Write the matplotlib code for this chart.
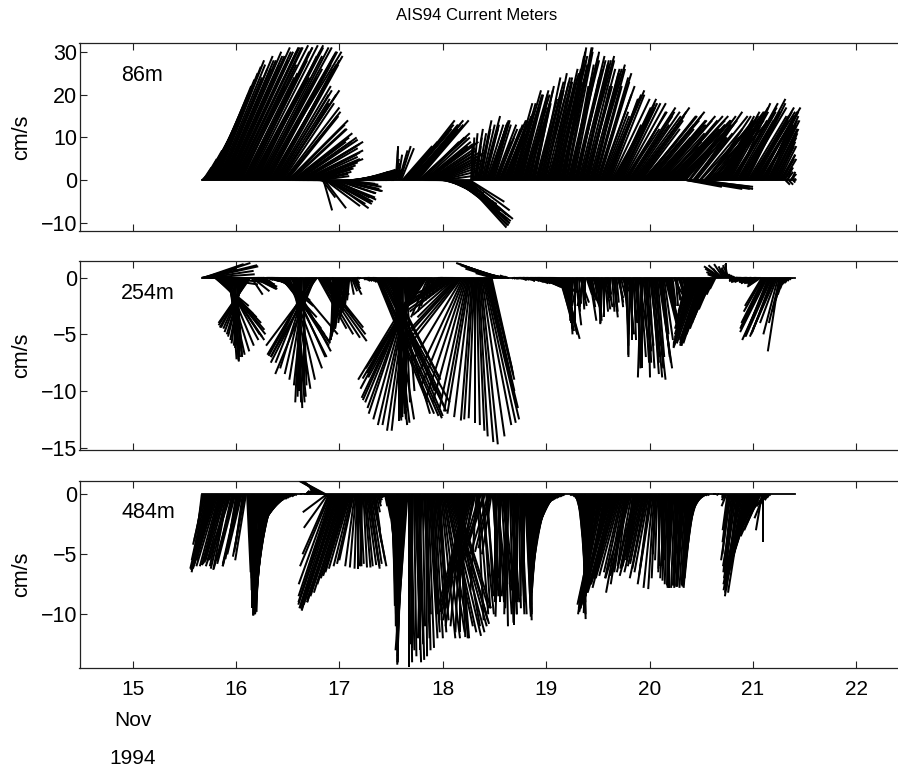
import numpy as np
import matplotlib
matplotlib.use('Agg')
import matplotlib.pyplot as plt
import matplotlib.transforms as mtransforms

# ---------------- data (one stick every 15 min from 15.67 Nov 1994) ----------------
t_start = 15.67          # day of November
t_step = 1.0 / 96.0      # 15 minutes

u86 = [1, 2, 3, 4, 5, 6, 7, 7.5, 8, 8.5, 9, 9.5, 10, 10.5, 11, 11, 10, 11, 12, 12, 11, 12, 13, 13, 12, 13, 14, 14, 13, 14, 15, 15,
       14, 15, 15, 16, 13, 10, 12, 16, 15, 12, 14, 15, 16, 17, 15, 11, 13, 16, 15, 14, 15, 17, 16, 13, 14, 17, 18, 16, 15, 14, 16, 17, 16, 15, 14, 15,
       13, 13, 12, 12, 14, 13, 11, 12, 13, 13, 12, 12, 14, 13, 13, 13, 14, 13, 12, 13, 14, 14,
       15, 14, 13, 13, 14, 13, 12, 12, 13, 12, 11, 11, 10, 10, 9, 9, 8, 8, 7, 7,
       6, 5, 3, 2, 5, 8, 9, 10, 10, 9, 9, 10, 10, 9, 8, 9, 9, 10, 10, 9, 8, 9, 8, 7,
       6, 6.5, 7, 7, 7, 7.5, 8, 8, 7, 7, 8, 8, 7, 7, 7, 6.5, 6, 6.5, 7, 6.5, 6, 6, 5.5, 5, 5.5, 6, 5.5, 5, 4.5, 4, 4.5, 5, 4.5, 4, 3.5, 3, 3.5, 4, 3.5, 3, 2.5, 2, 2.5, 2,
       1.5, 1, 0.5, 0.3, 1, 2, 2.5, 3,
       7, 8, 9, 10, 11, 11, 10, 9, 11, 12, 11, 10, 10, 11, 12, 12, 11, 9, 10, 11, 11, 10, 11, 12,
       11, 11, 10, 10, 11, 12, 11, 10, 10, 11, 10, 9, 8, 7,
       5, 6, 7, 8, 8.5, 9, 9.5, 10, 10.5, 11, 11, 10.5, 10, 11, 11.5, 12, 11.5, 11, 10.5, 10, 10.5, 11, 10, 9, 9.5, 8,
       0.3, 0.5, 1, 2, 1.5, 1, 2, 3, 2.5, 2, 3, 4, 3.5, 3, 4, 5, 4.5, 4, 3.5, 3,
       4, 4, 5, 5, 4, 3, 5, 6, 5, 4, 5, 5, 6, 6, 4, 3, 4, 5, 5, 4, 5, 6, 6, 5, 4, 3, 4, 5, 6, 6, 5, 4, 5, 5,
       4, 4, 5, 5, 4, 3, 5, 6, 6, 5, 5, 4, 5, 6, 6, 5, 6, 7, 6, 4, 5, 6, 6, 5, 6, 7, 7, 6, 5, 5, 6, 7,
       5, 5, 6, 6, 7, 7, 5, 4, 5, 6, 7, 7, 6, 5, 7, 8, 7, 6, 6, 7, 7, 6, 5, 5, 7, 8, 7, 6, 6, 7, 6, 8,
       7, 7, 8, 7, 6, 6, 8, 9, 8, 7, 7, 8, 9, 10, 9, 7, 6, 8, 9, 9, 8, 8, 9, 10, 10, 8, 7, 9, 11, 10, 9, 10,
       11, 11, 10, 9, 11, 12, 11, 10, 9, 8, 10, 12, 12, 11, 12, 13, 12, 10, 9, 10, 12, 12, 11, 10, 11, 13, 12, 10, 9, 8, 10, 12, 13, 14, 13, 11, 10, 11, 12, 13, 13, 11, 9, 11, 12, 13, 12, 10,
       10, 10, 9, 8, 11, 11, 12, 10, 8, 9, 11, 12, 13, 12, 10, 10, 12, 11, 9, 8, 11, 12, 10, 10, 8, 9, 12, 12, 10, 9, 11, 11,
       8, 8, 9, 8, 7, 8, 10, 9, 8, 8, 9, 9, 7, 8, 10, 10, 8, 9, 9, 8, 8, 9, 10, 10, 7, 8, 9, 9, 8, 9, 10, 10, 9, 8, 8, 9, 10, 9, 8, 8, 7, 7, 8, 7, 6, 7, 7, 7,
       6, 6, 6, 5, 5, 5, 4, 4, 4, 3.5, 3, 3, 3, 2, 1, 1.5, 1, 1, 1.5, 1, 0.5, 0.5, 0.3, 0.2]
v86 = [1, 3, 5, 7, 9, 11.5, 14, 16, 18, 20, 22, 23.5, 25, 26.5, 28, 27, 24, 26, 29, 28, 26, 28, 30, 29, 27, 29, 31, 30, 28, 30, 31, 31,
       30, 31, 31, 31.5, 27, 22, 24, 31, 30, 25, 28, 31, 31.5, 31.5, 28, 20, 24, 31, 30, 29, 29, 31, 31, 24, 26, 30, 30, 29, 27, 26, 30, 29, 28, 27, 26, 27,
       22, 21, 20, 19, 21, 20, 18, 18, 17, 16, 15, 15, 14, 13, 12, 12, 11, 10, 9, 9, 10, 9.5,
       9, 8.5, 8, 7.5, 7, 6.5, 6, 5.5, 5, 5, 4.5, 4.2, 4, 3.5, 3, 2.8, 2.5, 2, 1.5, 1,
       -0.5, -1, -4, -7, -6.5, -6, -5.5, -5, -5.5, -6.5, -5, -4, -4.5, -5, -4, -3, -3, -2.5, -2.5, -2, -2, -1.5, -1, -0.8,
       0, 0.2, 0.5, 0.8, 1, 1, 1.2, 1.5, 1.5, 1.5, 1.8, 1.5, 2, 2, 1.8, 1.5, 2, 2.2, 2.5, 2.2, 2, 2, 2, 1.8, 1.5, 2, 2.5, 2.2, 2, 2, 2, 2.2, 2.5, 2.3, 2, 2, 2, 2.2, 2.5, 2.3, 2, 1.8, 1.5, 1.5,
       4, 5, 7, 8, 6, 7, 8, 7.5,
       8, 9, 10, 11, 13, 14, 12, 10, 13, 14, 13, 12, 12, 13, 14, 11, 10, 9, 10, 10, 9, 8, 8.5, 9,
       7.5, 7, 6.5, 6, 6.5, 6.5, 6, 5, 5, 5, 4, 3, 2, 1,
       -0.5, -1, -2, -2.5, -3, -4, -4.5, -5, -5.5, -6.5, -7, -7, -7.5, -8.5, -9, -9.5, -10, -10.5, -10.5, -11, -10, -9, -8.5, -8, -7, -5,
       8, 10, 11, 12, 10, 8, 11, 14, 12, 11, 13, 15, 13, 12, 13, 14, 13.5, 13, 12, 11,
       14, 13, 13, 12, 10, 9, 12, 14, 13, 11, 12, 13, 15, 14, 11, 10, 14, 18, 16, 14, 18, 21, 20, 17, 14, 12, 16, 20, 21, 20, 17, 15, 17, 18,
       19, 20, 21, 22, 18, 15, 19, 21, 23, 24, 21, 18, 21, 23, 24, 25, 24, 24, 22, 19, 23, 26, 25, 22, 25, 28, 29, 29, 26, 23, 27, 31,
       30, 31, 31, 30, 29, 28, 24, 22, 27, 30, 29, 28, 26, 24, 28, 29, 28, 27, 27, 28, 26, 22, 20, 22, 26, 27, 26, 25, 25, 26, 22, 25,
       24, 23, 22, 20, 16, 15, 19, 21, 20, 19, 19, 20, 19, 18, 16, 13, 13, 17, 19, 18, 17, 17, 18, 18, 16, 12, 12, 16, 17, 15, 13, 16,
       16, 15, 13, 12, 15, 17, 16, 14, 12, 9, 12, 15, 15, 13, 14, 16, 15, 12, 10, 11, 14, 14, 13, 12, 13, 15, 14, 11, 9, 8, 11, 14, 15, 15, 14, 12, 11, 12, 13, 14, 14, 11, 9, 11, 13, 14, 13, 10,
       13, 12, -1, -1.5, 15, 14, -2, -1.5, 10, 11, 16, 15, -1.5, -2, 12, 11, -2, -1.5, 9, 10, 14, 15, 15, 12, 8, 10, 16, 15, 11, 10, 14, 13,
       14, 15, 16, 14, 12, 14, 17, 16, 15, 15, 16, 14, 11, 14, 17, 18, 18, 16, 15, 14, 13, 16, 19, 17, 14, 16, 18, 15, 12, 15, 17, 16, 16, 14, 13, 15, 17, 16, 15, 13, 11, 13, 16, 15, 14, 14, 15, 14,
       13, 12, 12, 11, 10, 11, 8, 9, 8, 6, 5, 6, 5, 3, -1, 2, 3, -1, 1.5, 2, 1, -0.5, 0.5, 0.3]

u254 = [2, 3, 3.5, 4, 4.5, 4.5, 4, 4, 4.5, 5, 4, 3,
        3, 3.3, 3.5, 3.8, 4, 4, 3.8, 3.5, 3.2, 3, 2.5, 2,
        1.5, 1, 0.8, 0.5, 0.6, 0.8, 0.4, 0.3, 0.5, 0.2,
        -0.3, -0.5, -0.8, -1, -1.3, -1.5, -1.8, -2, -2.3, -2.5, -2.7, -2.8,
        1, 1.5, 2, 2, 1.8, 1.8, 1.5, 1.2, 1, 0.8,
        0.5, 0.4, 0.3, 0.3, 0.6, 1,
        1, 1.2, 1.5, 1.7, 2, 2, 1.8, 2, 2.5, 2.8, 3, 3.2,
        3.5, 3.7, 4, 4, 3.8, 3.5, 3, 3.2, 4.2, 3.5,
        2, 1.5, 1, 0.8, 0.5, 0.3, 0, -0.2, -0.5, -0.3, 0.3, 0,
        -1, -1.5, -2, -2.5, -3, -3.5, -3.8, -4, -3.8, -3.5, -4, -4.5,
        2.5, 3, 3.5, 4, 3.8, 3.5, 2.5, 2,
        1.5, 1, 0.5, 0.5, 1, 1.5,
        -0.2, -0.3, -0.4, -0.5, -0.6, -0.8, -0.7, -0.5, -0.8, -1, -0.8, -0.6, -0.5, -0.4, -0.3, -0.2,
        0.3, 0.5, 0.8, 0.6, 0.4, 0.3,
        0.2, 0.2, 0.1, 0.1, 0, 0, 0.2, 0.3, 0.4, 0.5, 0.5, 0.4, 0.4, 0.5, 0.6, 0.6, 0.5, 0.7,
        4.5, 5, 5.3, 5.5, 5.8, 6, 5.5, 5.2, 5, 4.8, 4.6, 4.5, 4, 3.5,
        2, 1.5, 1.2, 1, 0.8, 0.5, 0.3, 0, 0.2, 0.5, 0.3, -0.3, 0.5, 0.8, 0, -0.5,
        -1.5, -2, -2.5, -3, -3.5, -4, -4.2, -4.5, -4.8, -5, -5.2, -5.5, -5.2, -4.8, -5, -5.2, -4.5, -4,
        -1.5, -1, -0.8, -0.5, -0.3, 0, 0.2, 0.5, 0.7, 1, 0.9, 0.8, 0.6, 0.5,
        -0.8, -1, -1.5, -2, -2.5, -3, -3.2, -3.5, -3.8, -4, -4, -4, -3.8, -3.5,
        -4.2, -4.5, -4.8, -5, -4.5, -4, -3.8, -3.5, -3, -2.5, -2.2, -2, -1.5, -1, -0.8, -0.5,
        0, 0.3, 0.6, 0.8, 1.2, 1.5, 2, 2.5, 2.8, 3, 2.8, 2.5, 2.3, 2.2, 2, 1.8,
        -1.5, -2.5, -3, -3.5, -3.3, -3.2, -3, -2.8, -2.5, -2, -1.5, -1,
        -0.5, -0.4, -0.3, -0.2, 0, 0, 0.1, 0.2, 0.3, 0.3, 0.2, 0.2, 0.3, 0.4, 0.5, 0.5, 0.4, 0.3, 0.4, 0.5, 0.6, 0.6, 0.5, 0.6, 0.7, 0.8, 0.9, 1, 1.1, 1.2,
        1.3, 1.5, 1.8, 2, 2.1, 2.2, 2.4, 2.5, 2.2, 2, 1.9, 1.8, 2, 2.3, 2, 1.5, 1.3, 1.2, 1.1, 1,
        1.2, 1.2, 1.4, 1.5, 1.2, 1, 0.8, 0.5, 0.4, 0.3, 0.2, 0, -0.2, -0.3, 0, 0.5, 0.3, -0.5, 0.2, 0.8, 0.5, 0.2, -0.3, -0.6, 0, 0.5, 0.8, 1, 0.6, 0.4, 0.3, 0.3,
        0.3, 0.2, 0.5, 0.4, 0.2, 0.1, 0, -0.1, -0.2, 0, 0.3, 0.4, 0.5, 0.3, 0.2, 0, -0.3, 0.2, 0.4, 0.3, 0.1, 0.2, 0.5, 0.4, 0.3, 0.5, 0.6, 0.5,
        0.3, 0.3, 0.2, 0.1, 0.5, 0.3, -0.2, 0, 0.4, 0.2, 0.6, 0.5, 0.3, 0.2, 0.8, 0.5, -0.3, 0, 0.5, 0.6, 0.7, 0.4, 0.2, 0.5, 0.9, 0.7, 0.6, 0.8, 1, 0.7, 0.4, 0.6, 1.2, 1, 0.8, 0.6, 0.5, 0.8, 1.5, 1.2, 1, 0.8,
        0.5, 0.4, 0.3, 0.3, 0.8, 0.6, 0.2, 0.3, 0.5, 0.4, 0.4, 0.3, 0.3, 0.2, 0.2, 0,
        -0.5, -0.8, -1, -1.2, -1.4, -1.5, -1.6, -1.8, -1.9, -2, -2.1, -2.2, -2, -1.8, -1.9, -2, -2, -1.9, -2, -2.1, -1.9, -1.7, -1.6, -1.5, -1.2, -1, -0.7, -0.5,
        -0.8, -1, -1.2, -0.6, -1.5, -1.2, -0.8, -0.5, -0.3, 0, -0.2, -0.5, -0.8, -1, -0.6, -0.4, -0.3, -0.2,
        -0.5, -0.6, -0.8, -0.7, -1, -1.1, -0.6, -0.8, -1.2, -1, -0.9, -0.8, -0.7, -0.9, -1.1, -1, -0.5, -0.8, -1.3, -1.1, -0.8, -0.9, -1, -1.2,
        -1.5, -1.7, -2, -2.1, -2.3, -2.4, -2, -2.2, -2.5, -2.3, -1.8, -2, -2.2, -2, -1.5, -1.3, -1, -1, -0.8, -0.6, -0.5, -0.4,
        -0.5, -0.4, -0.3, -0.3, -0.2, -0.1, 0, 0, 0, 0]
v254 = [0.3, 0.8, 1.2, 1.3, 1.1, 1, 0.6, 0.3, 0, -0.4, -0.6, -0.3,
        -2.5, -3.2, -3.5, -4, -4.6, -5, -5.5, -5.2, -5, -5.5, -6, -6.5,
        -6.8, -7, -7.4, -7.2, -6.5, -7, -7.3, -7.2, -6.8, -6.5,
        -6.2, -6, -5.8, -5.5, -5.2, -5, -4.8, -4.5, -4.4, -4.4, -4.2, -4,
        -1.5, -1.2, -1, -1, -0.9, -0.8, -0.6, -0.5, -0.4, -0.3,
        -0.2, -0.1, 0, 0, -0.2, -0.3,
        -0.3, -0.4, -0.5, -0.6, -0.8, -0.9, -1, -1.2, -1.5, -2, -2.5, -3.5,
        -4.5, -5, -5.6, -5.8, -6, -7, -8, -7, -5, -6.5,
        -9, -9.8, -10.5, -11, -11.5, -11, -10, -10.5, -11, -10, -9.5, -9.8,
        -9.5, -9, -8.5, -8, -7.5, -7, -6.9, -6.8, -7.5, -8.5, -7, -6,
        -4.5, -5, -5.3, -5.6, -5, -4.4, -3.5, -3,
        -2.5, -2, -3, -2.5, -2, -1.5,
        -5.2, -5.5, -5.3, -5, -5.4, -5.7, -5, -4.5, -4.8, -5.2, -4.5, -4, -3.5, -3, -2.5, -2,
        -1.5, -1.2, -1.5, -1, -0.7, -0.5,
        -0.1, -0.1, 0, 0, -0.1, -0.1, -0.2, -0.2, -0.3, -0.3, -0.2, -0.2, -0.3, -0.4, -0.4, -0.3, -0.3, -0.5,
        -11, -12, -12.2, -12.4, -11.8, -11, -11.5, -12.2, -10.5, -9, -8.9, -8.8, -10, -12,
        -12.5, -12.8, -13, -12.5, -12, -12.3, -12.6, -12.6, -12, -11.5, -12, -12.4, -11, -10, -11, -12,
        -13.5, -13.5, -13, -13, -12.5, -12, -11.5, -11, -10.8, -10.6, -9.8, -9, -8.9, -8.8, -8.4, -8, -7, -6,
        -3.5, -3, -2.5, -2, -1.8, -1.5, -1.2, -1, -0.8, -0.6, -0.5, -0.3, -0.2, 0,
        -0.3, -0.5, -0.8, -1, -1.3, -1.5, -1.8, -2, -2.3, -2.5, -2.8, -3, -3.3, -3.5,
        -4.5, -5, -5.8, -6.5, -7.5, -8.5, -9.5, -10.6, -11, -11.5, -11.8, -12, -12.3, -12.6, -12.5, -12.4,
        -12.8, -13, -13.5, -14, -14.5, -14.7, -14, -13, -12.8, -12.5, -11.5, -11, -10, -9, -8.5, -8,
        0.4, 0.8, 1.1, 1.3, 1.2, 1.1, 1, 0.9, 0.7, 0.5, 0.3, 0.2,
        0.2, 0.1, 0.1, 0, 0, 0, -0.1, -0.1, -0.1, 0, -0.1, -0.1, -0.1, -0.1, -0.2, -0.2, -0.1, -0.1, -0.2, -0.2, -0.2, -0.3, -0.3, -0.2, -0.3, -0.3, -0.4, -0.4, -0.5, -0.5,
        -0.5, -0.6, -0.8, -0.9, -1, -1.1, -1.2, -1.2, -1.1, -1, -1, -0.9, -1.1, -1.3, -1.2, -1, -1, -1.1, -1.3, -1.5,
        -4, -4.7, -5, -5.4, -5, -4.5, -4.2, -3.8, -4.5, -5, -4.5, -4, -3.8, -3.5, -3.8, -4.2, -3, -2.5, -2.3, -2.2, -2.5, -2.8, -2.6, -2.5, -2, -1.5, -2, -2.6, -3.8, -2.6, -1.5, -0.8,
        -1, -2, -3.8, -3.5, -4, -3, -2, -2.5, -4.1, -3.5, -3, -2.8, -2.6, -2, -1.5, -1.8, -2, -3, -3.5, -3, -2.6, -2.2, -1.8, -2.2, -2.6, -2, -1.2, -1,
        -3, -5, -7, -6, -5, -4.5, -6.8, -5.5, -4, -5.5, -6.5, -7.5, -8, -6.5, -5.5, -7, -8.8, -8, -7.5, -6.5, -6, -7.5, -8.8, -8, -7, -7.5, -8.5, -8.8, -9, -8, -6, -7, -8, -7.5, -7, -6, -5, -5.5, -6, -5, -4, -3.5,
        -2, -2.5, -3, -2.5, -1.5, -2, -2.5, -2, -1, -1.5, -2, -1.5, -0.8, -1.2, -1.5, -2,
        -2.5, -3, -3.5, -4, -4.5, -5, -5.3, -5.8, -5.9, -6, -6.1, -6.2, -5.8, -5.5, -5.8, -6, -6, -5.8, -5.6, -5.5, -5, -4.5, -4, -3.5, -2.8, -2, -1.5, -1,
        0.3, 0.5, 0.8, 0.8, 1, 1.1, 1.2, 1, 0.9, 1.3, 1.2, 1.1, 0.8, 0.6, 0.4, 0.3, 0.2, 0.1,
        0, -0.1, -0.1, -0.2, -0.2, -0.3, -0.3, -0.4, -0.4, -0.3, -0.2, -0.4, -0.5, -0.4, -0.3, -0.5, -0.6, -0.5, -0.4, -0.5, -0.5, -0.6, -0.7, -0.8,
        -2.5, -3, -4, -4.3, -4.5, -4.8, -5, -5.2, -5.5, -5.2, -4.8, -5, -5.2, -4.5, -4, -5, -6.5, -4, -3, -2, -1.5, -1,
        -0.8, -0.6, -0.5, -0.4, -0.3, -0.2, -0.1, 0, 0, 0]

u484 = [-0.3, -0.5, -0.8, -1, -1.2, -1.3, -1.5, -1.4, -1.2, -1.5, -1.8, -1.7, -1.5, -1.8, -2, -1.8, -1.6, -1.5, -1.4, -1.6, -1.8, -1.6,
        -1.5, -1.4, -1.2, -1.5, -2, -1.8, -1, -1.3, -1.7, -1.5, -0.8, -1, -1.3, -1.4, -1.5, -1.2, -0.6, -0.8, -1, -0.9,
        0.3, 0.3, 0.2, 0.2, 0.1, 0, 0, -0.1, -0.2, -0.3, -0.3, -0.2, -0.4, -0.5, -0.6, -0.6, -0.7, -0.8, -0.9, -1, -1.1, -1.2, -1.3, -1.4, -1.5, -1.7,
        -1.8, -2, -2.1, -2.2, -2.3, -2.3, -2.2, -2.2, -2.1, -2, -1.8, -1.5, -1.2, -1,
        -0.7, -0.5, -0.4, -0.3, -0.2, -0.2, -0.1, 0, 0, 0.1, 0.1, 0, 0, 0.1, 0.2, 0.1, -0.1, -0.2, -0.2, -0.3, -0.3, -0.2, -0.3, -0.4, -0.6, -0.8, -1, -1.2,
        -1.5, -1.8, -2, -2, -1.8, -1.5, -2, -2,
        -2.2, -2.5, -2.7, -2.8, -2.9, -3, -3, -2.9, -3, -3.2, -3, -2.8, -2.9, -3, -2.8, -2.6, -2.4, -2.2, -2.1, -2, -1.8, -1.5, -1.3, -1.2,
        -0.8, -0.5, -0.2, 0, 0.2, 0.3, 0, -0.2, 0.3, 0.5, 0.6, 0.8, 1, 0.9, 0.7, 0.9, 1.2, 1, 0.6, 0.4,
        0.3, 0.3, 0.2, 0.2, 0.1, 0.1, 0, 0, 0.2, 0.4,
        0.6, 0.5, 0.5, 0.4, 0.3, 0.2, 0.2, 0.1, 0.1, 0, 0, -0.1, -0.2, -0.3, -0.4, -0.5, -0.6, -0.7, -0.8, -1,
        0, 0.2, 0.3, 0, -0.2, 0.2, 0.5, 0.3, 0.2, 0.4, 0.4, 0, -0.3, 0.2, 0.6, 0.4, 0.1, 0.3, 0.5, 0.7, 0.8, 0.5, 0.3, 0.5, 0.7, 0.9, 1, 0.8, 0.5, 0.6,
        1.2, 1.5, 1.8, 2, 2.3, 2.5, 2.8, 3, 3.1, 3.2, 3, 2.8, 2.9, 3, 2, 1, 0.8, 0.5, 0, -0.5, -1, -1.5, -1.8, -2, -2.2, -2.5, -2.3, -2, -1.8, -1.5,
        -1, -1.2, -1.5, -0.5, 0.5, 0.8, -1.8, -1.5, 1, 0.6, -2, -1.8, 0.8, 0.5, -1.5, -1.2, -1, -0.8,
        0.5, 0.3, 0, 0.2, 0.8, 0.5, -0.3, 0, 0.5, 0.8, 1, 0.6, 0.2, -0.2, -0.5, -0.3, 0.3, 0.5, 0.6, 0.3, 0, -0.2, -0.4, 0, 0.2, 0.4, 0.5, 0.2, -0.2, 0,
        0.5, 0.4, 0.3, 0.3, 0.2, 0.1, 0, -0.1, -0.2, -0.3, -0.4, -0.5, -0.5, -0.6, -0.7, -0.8, -0.9, -1, -1.1, -1.2, -1.3, -1.4, -1.5, -1.6, -1.7, -1.8, -1.9, -2, -2.1, -2.1, -2, -1.9, -1.8, -1.5,
        -0.8, -0.5, -0.3, -0.2, 0, 0, 0, 0, 0.1, 0.1, 0.2, 0.4,
        0.8, 0.8, 0.7, 0.6, 0.5, 0.5, 0.4, 0.3, 0.2, 0.1, 0, -0.1, -0.3, -0.4, -0.5, -0.6,
        -0.7, -0.8, -1, -1.2, -1.5, -1.4, -1.2, -1.5, -1.8, -2, -2, -1.8, -1.5, -1.8, -2.3, -2.2, -2, -2.3, -2.6, -2.5, -2.2, -2, -1.8, -2, -2.5, -2.3, -2, -1.8, -1.5, -1.5,
        -1.5, -1.2, -1, -0.8, -1.5, -2, -1.5, -1, -0.5, -1, -1.5, -1.3, -1.2, -1, -0.8, -1.2, -1.8, -1.5, -1.3, -1.2, -1, -1.2, -1.5, -1.2, -0.8, -1, -1.2, -0.8, -0.5, -0.3,
        -0.3, -0.2, 0, -0.1, -0.2, 0, 0.1, -0.2, -0.4, -0.3, -0.2, -0.1, 0, -0.2, -0.3, -0.4, -0.5, -0.3, -0.2, -0.3, -0.4, -0.4, -0.3, -0.4, -0.5, -0.5, -0.6, -0.5, -0.4, -0.5, -0.5, -0.6, -0.6, -0.7,
        -0.7, -0.8, -0.8, -0.9, -1, -1, -1.1, -1.1, -1, -1, -0.9, -0.8, -0.6, -0.5,
        -0.2, -0.1, 0, 0, 0, 0.1, 0.1, 0, 0, -0.1, -0.1, 0, 0, 0, -0.1, -0.2, -0.3, -0.4,
        -0.4, -0.5, -0.6, -0.8, -0.7, -0.6, -0.8, -1, -1, -0.9, -1.1, -1.2, -1.4, -1.5, -1.4, -1.3, -1.5, -1.8, -1.7, -1.6, -1.8, -2, -2, -1.9, -2, -2.2, -2.1, -2, -1.8, -1.5, -1.3, -1.2, -0.5, 0, -0.8, -1.2, -0.8, -0.6,
        -0.3, -0.2, -0.1, 0, 0, 0, 0, 0, 0, 0, 0, 0, 0, 0, 0, 0, 0, 0, 0, 0, 0, 0, 0, 0, 0, 0]
v484 = [-2.5, -3, -3.8, -4.2, -5.5, -6.5, -6.2, -5.8, -5, -5.8, -6.3, -6, -5.5, -5.8, -6.2, -6, -6, -5.9, -5.7, -5.8, -5.9, -5.6,
        -5.5, -6, -6.3, -6.2, -6, -5.5, -4.5, -5.5, -6.2, -5.8, -5, -5.4, -5.8, -6, -6, -5, -4.2, -4.8, -5.2, -5.5,
        -6.5, -7, -8, -8.5, -9, -9.5, -9.8, -10, -10.1, -10.1, -10, -9.8, -9.9, -10, -9.8, -9.5, -9.2, -9, -8.8, -8.5, -8.2, -8, -7.5, -7, -6.5, -6,
        -5.5, -5, -4.7, -4.5, -4, -3.8, -3.5, -3.2, -2.8, -2.5, -2, -1.5, -1.1, -0.8,
        -0.5, -0.4, -0.3, -0.2, -0.2, -0.1, -0.1, 0, 0, 0, 0, 0.1, 0.1, 0, 0, 0.1, 0.1, 0.1, 0.2, 0.2, 0.3, 0.3, 0.5, 0.6, 0.7, 0.8, 0.9, 1,
        1.1, 1.2, 1.2, 1.1, 1, 0.8, -1.5, -2.8,
        -5, -6, -7.5, -8.5, -9, -9.2, -9.5, -9.7, -9.6, -9.5, -9.2, -9, -9, -8.8, -8.5, -8.2, -7.5, -7, -6.8, -6.5, -6.2, -6, -5.8, -5.5,
        -6, -6.1, -6.2, -6.2, -6, -5.8, -5.9, -6, -6.1, -6.1, -6, -5.9, -6.2, -6, -5.5, -5.8, -6, -5.5, -4, -3,
        -1.5, -1, -0.7, -0.5, -0.3, -0.3, -0.2, -0.2, -1, -2,
        -3, -4, -5, -6, -7.5, -9.3, -10, -11, -12, -13, -13.5, -14, -13.8, -13.5, -14, -14.2, -13, -12, -12.5, -13,
        -14.4, -14, -13, -12.8, -12.5, -13.5, -14, -12, -11, -12.5, -13.8, -13, -12, -11, -10, -12, -13.5, -13, -12.8, -12, -11.5, -10, -9, -10.5, -12, -11.5, -10.5, -9.5, -8, -9,
        -12, -12, -11.5, -11.5, -11, -11.5, -11.8, -11.5, -11, -10.8, -10.5, -10, -9.5, -9.5, -11, -12, -12, -11.9, -11.5, -11.5, -11, -11, -10.5, -10, -9.8, -9.5, -9, -8, -7.5, -7,
        -6, -6.2, -6.5, -8, -10.5, -10, -6, -5.8, -10, -9.5, -5.5, -5.3, -9, -8.5, -5, -4.8, -4.5, -5,
        -7, -8, -9, -8.5, -8, -9, -10.2, -9, -7.5, -8, -9, -10, -11, -10, -8.5, -9.5, -10.7, -10, -9, -10, -10.9, -9.5, -8, -9, -9.5, -10, -10, -9, -8.5, -9,
        -10, -10.2, -9.5, -10, -10.5, -9.8, -9, -9.2, -8.5, -8.8, -9, -8.5, -8, -8.2, -7.5, -7.8, -7, -7.2, -6.5, -6.8, -6, -5.8, -5, -4.8, -4.5, -4.2, -4, -3.5, -3, -2.5, -2, -1.5, -1.2, -0.8,
        -0.5, -0.3, -0.2, -0.1, 0, 0, 0, 0, -0.1, -0.1, -0.2, -0.5,
        -1.5, -2.8, -3.5, -5, -6, -7, -8.5, -10.4, -10, -9, -8.5, -8, -9, -9.9, -9, -8.5,
        -9, -8.8, -8.5, -9.5, -10, -9.5, -9.2, -9.3, -9.5, -9.2, -9, -8.5, -8, -9, -9.8, -9.2, -8.5, -8.8, -9, -8.8, -8.2, -7.5, -7, -7.8, -8.2, -7.5, -7, -6.8, -6.5, -7,
        -8.2, -7.5, -6.5, -6, -6.8, -7, -6, -5.5, -5, -6, -6.5, -6.2, -6, -5, -4.5, -5.5, -6.8, -6.5, -6, -5.8, -5.5, -6.2, -7, -6.5, -6, -6.8, -7.5, -7.8, -7.9, -7,
        -5, -5.5, -6, -6.2, -6.5, -6, -5.5, -6, -7, -7.2, -7.5, -7.6, -7.8, -7.7, -7.6, -7.7, -7.8, -7.8, -7.6, -7.5, -7.6, -7.8, -7.7, -7.7, -7.6, -7.6, -7.7, -7.8, -7.6, -7.5, -7.6, -7.7, -7.8, -7.5,
        -7, -6.5, -5.5, -4.8, -4, -3.5, -2.8, -2.2, -1.8, -1.4, -1, -0.7, -0.4, -0.2,
        -0.1, -0.1, 0, 0, 0, 0, 0, 0, -0.1, -0.1, 0, 0, -0.1, -0.1, -0.2, -0.3, -0.5, -1,
        -3, -4, -5, -5.5, -6.5, -7, -6.5, -6, -7, -8, -8.2, -8.5, -8, -7.5, -7.8, -8.2, -7.5, -7, -6.8, -6.5, -7, -7.2, -6.8, -6.2, -6, -5.5, -5, -4.5, -4, -3.5, -3, -2.5, -3, -4, -2, -1.5, -1, -0.8,
        -0.5, -0.3, -0.1, 0, 0, 0, 0, 0, 0, 0, 0, 0, 0, 0, 0, 0, 0, 0, 0, 0, 0, 0, 0, 0, 0, 0]

depth_labels = ['86m', '254m', '484m']
y_limits = [(-11.8, 31.96), (-15.2, 1.47), (-14.5, 1.13)]
y_ticks = [[-10, 0, 10, 20, 30], [-15, -10, -5, 0], [-10, -5, 0]]
x_ticks = [15, 16, 17, 18, 19, 20, 21, 22]
x_limits = (14.487, 22.42)
title = 'AIS94 Current Meters'
month_label = 'Nov'
year_label = '1994'

# ---------------- figure ----------------
plt.rcParams['font.family'] = ['Liberation Sans', 'DejaVu Sans']
plt.rcParams['axes.unicode_minus'] = True

fig = plt.figure(figsize=(8.98, 7.68), dpi=100)
W, H = 898.0, 768.0
left = 79.5 / W
width = 1.0 - left + 0.002
panels = [(43.3, 231.0), (261.0, 450.0), (480.7, 668.3)]  # pixel top, bottom

series = [(u86, v86), (u254, v254), (u484, v484)]
axes = []
for i, ((top, bot), (u, v)) in enumerate(zip(panels, series)):
    ax = fig.add_axes([left, 1 - bot / H, width, (bot - top) / H])
    axes.append(ax)
    n = min(len(u), len(v))
    u = np.asarray(u[:n], dtype=float)
    v = np.asarray(v[:n], dtype=float)
    t = t_start + np.arange(n) * t_step
    ax.plot(t, np.zeros(n), color='black', lw=1.3, zorder=2)
    ax.quiver(t, np.zeros(n), u, v, angles='uv', scale_units='y', scale=1,
              units='dots', width=2.0, headwidth=0, headlength=0,
              headaxislength=0, minlength=0, pivot='tail', color='black',
              zorder=3)
    ax.set_xlim(*x_limits)
    ax.set_ylim(*y_limits[i])
    ax.set_yticks(y_ticks[i])
    ax.set_xticks(x_ticks)
    ax.tick_params(axis='both', direction='in', length=5, width=0.8,
                   top=True, right=False, labelsize=15.5, pad=1.5,
                   color='#222222')
    ax.tick_params(axis='x', pad=8.5, labelsize=15)
    for s in ['left', 'top', 'bottom']:
        ax.spines[s].set_linewidth(0.9)
        ax.spines[s].set_color('#222222')
    ax.spines['right'].set_visible(False)
    ax.set_ylabel('cm/s', fontsize=15.5)
    ax.yaxis.set_label_coords(-0.058, 0.5)
    ax.text(0.051, 0.80, depth_labels[i], transform=ax.transAxes,
            fontsize=15.5, ha='left', va='baseline')
    if i < 2:
        ax.tick_params(axis='x', labelbottom=False)

ax3 = axes[-1]
trans = mtransforms.blended_transform_factory(ax3.transData, fig.transFigure)
fig.text(x_ticks[0], 1 - 721 / H, month_label, transform=trans,
         ha='center', va='center', fontsize=15)
fig.text(x_ticks[0], 1 - 759 / H, year_label, transform=trans,
         ha='center', va='center', fontsize=15)

fig.text(477 / W, 1 - 15 / H, title, ha='center', va='center', fontsize=12)

fig.savefig('out.png', dpi=100)
